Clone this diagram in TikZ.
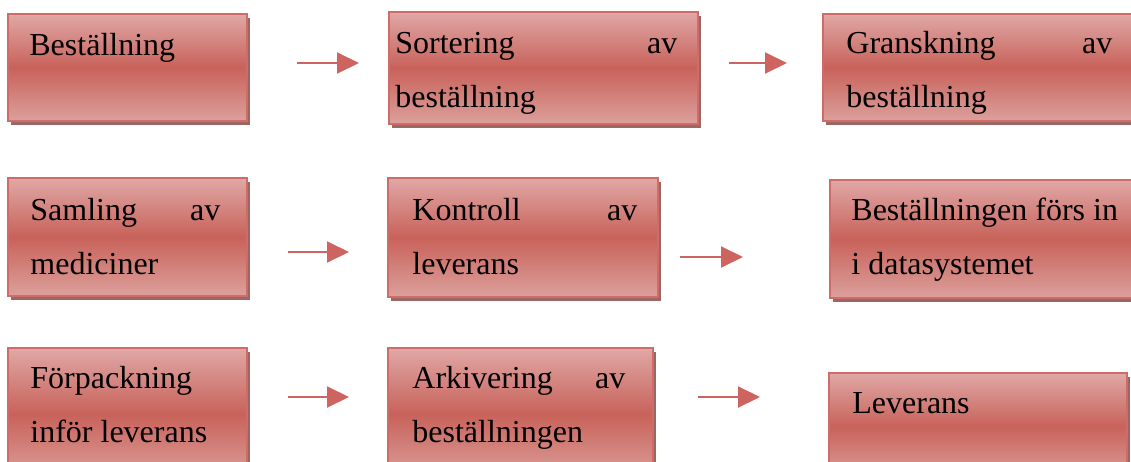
\documentclass[tikz,border=0pt]{standalone}
\usepackage{fontspec}
\setmainfont{Liberation Serif}
\usepackage{tikz}
\usetikzlibrary{arrows.meta,fit,shadows}
\definecolor{topred}{RGB}{224,168,166}
\definecolor{midred}{RGB}{200,98,90}
\definecolor{botred}{RGB}{220,160,156}
\definecolor{edgered}{RGB}{208,108,104}
\definecolor{shadowred}{RGB}{156,102,98}
\definecolor{arrowred}{RGB}{205,100,95}
\newcommand{\boxtext}[2]{\parbox[t]{#1}{\fontsize{16}{27}\selectfont #2}}

\begin{document}
\begin{tikzpicture}[x=0.5pt,y=-0.5pt,
    stepbox/.style={rectangle, draw=edgered, line width=1pt, inner sep=0pt,
                    top color=topred, bottom color=botred, middle color=midred,
                    drop shadow={shadow xshift=1.5pt, shadow yshift=-2pt,
                                 fill=shadowred, opacity=1}},
    steptext/.style={anchor=base west, inner sep=0pt},
    flowarrow/.style={draw=arrowred, line width=1pt,
                      -{Triangle[length=11pt, width=10.5pt]}}]
    \useasboundingbox (0,0) rectangle (1131,461);
    \clip (0,0) rectangle (1131,461);

    % row 1
    \node[stepbox, fit={(8,14) (247,121)}] (order) {};
    \node[stepbox, fit={(389,12) (698,124)}] (sorting) {};
    \node[stepbox, fit={(823,14) (1150,121)}] (review) {};
    \node[steptext] (ordertext) at (29,55) {\boxtext{150pt}{Beställning}};
    \node[steptext] (sortingtext) at (395,53)
        {\boxtext{141pt}{Sortering \hfill av\\ beställning}};
    \node[steptext] (reviewtext) at (846,53)
        {\boxtext{133pt}{Granskning \hfill av\\ beställning}};

    % row 2
    \node[stepbox, fit={(8,178) (247,296)}] (picking) {};
    \node[stepbox, fit={(388,178) (658,297)}] (check) {};
    \node[stepbox, fit={(830,180) (1150,298)}] (entry) {};
    \node[steptext] (pickingtext) at (30,220)
        {\boxtext{95pt}{Samling \hfill av\\ mediciner}};
    \node[steptext] (checktext) at (412,220)
        {\boxtext{112.5pt}{Kontroll \hfill av\\ leverans}};
    \node[steptext] (entrytext) at (851,220)
        {\boxtext{150pt}{Beställningen förs in\\ i datasystemet}};

    % row 3
    \node[stepbox, fit={(8,348) (247,480)}] (packing) {};
    \node[stepbox, fit={(388,348) (653,480)}] (archive) {};
    \node[stepbox, fit={(829,373) (1127,480)}] (delivery) {};
    \node[steptext] (packingtext) at (30,388)
        {\boxtext{150pt}{Förpackning\\ inför leverans}};
    \node[steptext] (archivetext) at (412,388)
        {\boxtext{106.5pt}{Arkivering \hfill av\\ beställningen}};
    \node[steptext] (deliverytext) at (852,413) {\boxtext{150pt}{Leverans}};

    % arrows
    \coordinate (a1s) at (297,63);  \coordinate (a1e) at (359,63);
    \coordinate (a2s) at (729,63);  \coordinate (a2e) at (787,63);
    \coordinate (a3s) at (288,252); \coordinate (a3e) at (349,252);
    \coordinate (a4s) at (680,257); \coordinate (a4e) at (743,257);
    \coordinate (a5s) at (288,397); \coordinate (a5e) at (349,397);
    \coordinate (a6s) at (698,397); \coordinate (a6e) at (760,397);
    \foreach \i in {1,...,6}
        \draw[flowarrow] (a\i s) -- (a\i e);
\end{tikzpicture}
\end{document}
